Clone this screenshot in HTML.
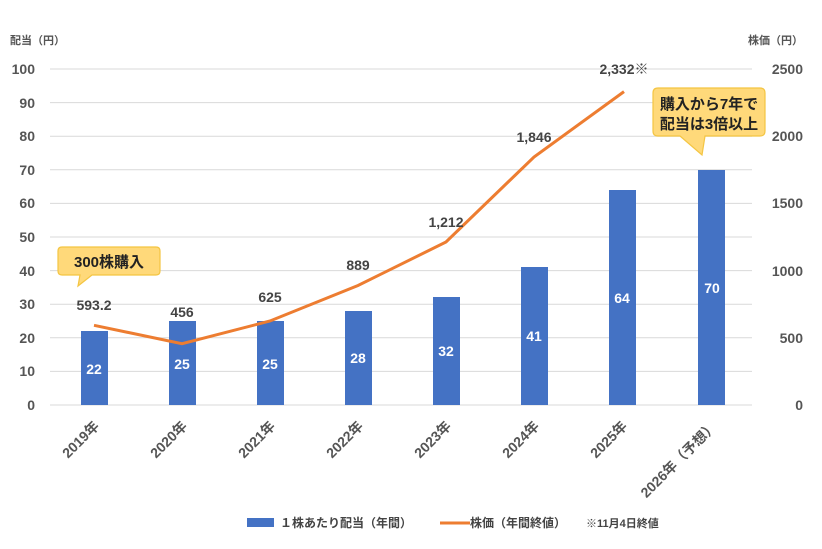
<!DOCTYPE html>
<html><head><meta charset="utf-8"><style>
html,body{margin:0;padding:0;background:#fff;}
svg{display:block;font-family:"Liberation Sans","Noto Sans CJK JP",sans-serif;font-weight:bold;}
</style></head><body>
<svg width="822" height="549" viewBox="0 0 822 549" xmlns="http://www.w3.org/2000/svg">
<g font-size="11" fill="#555"><text x="10" y="44">配当（円）</text><text x="748" y="44">株価（円）</text></g>
<g stroke="#d9d9d9" stroke-width="1">
<line x1="50" x2="752" y1="69" y2="69"/><line x1="50" x2="752" y1="102.6" y2="102.6"/>
<line x1="50" x2="752" y1="136.2" y2="136.2"/><line x1="50" x2="752" y1="169.8" y2="169.8"/>
<line x1="50" x2="752" y1="203.4" y2="203.4"/><line x1="50" x2="752" y1="237" y2="237"/>
<line x1="50" x2="752" y1="270.6" y2="270.6"/><line x1="50" x2="752" y1="304.2" y2="304.2"/>
<line x1="50" x2="752" y1="337.8" y2="337.8"/><line x1="50" x2="752" y1="371.4" y2="371.4"/>
<line x1="50" x2="752" y1="405" y2="405"/>
</g>
<g font-size="14" fill="#555" text-anchor="end">
<text x="35" y="74">100</text><text x="35" y="108">90</text><text x="35" y="141">80</text><text x="35" y="175">70</text><text x="35" y="208">60</text><text x="35" y="242">50</text><text x="35" y="276">40</text><text x="35" y="309">30</text><text x="35" y="343">20</text><text x="35" y="376">10</text><text x="35" y="410">0</text>
</g>
<g font-size="14" fill="#555" text-anchor="end">
<text x="803" y="74">2500</text><text x="803" y="141">2000</text><text x="803" y="208">1500</text><text x="803" y="276">1000</text><text x="803" y="343">500</text><text x="803" y="410">0</text>
</g>
<g fill="#4472c4">
<rect x="81" y="331" width="27" height="74"/>
<rect x="169" y="321" width="27" height="84"/>
<rect x="257" y="321" width="27" height="84"/>
<rect x="345" y="311" width="27" height="94"/>
<rect x="433" y="297" width="27" height="108"/>
<rect x="521" y="267" width="27" height="138"/>
<rect x="609" y="190" width="27" height="215"/>
<rect x="698" y="170" width="27" height="235"/>
</g>
<g font-size="14" fill="#fff" text-anchor="middle">
<text x="94" y="374">22</text><text x="182" y="369">25</text><text x="270" y="369">25</text><text x="358" y="363">28</text><text x="446" y="356">32</text><text x="534" y="341">41</text><text x="622" y="303">64</text><text x="712" y="293">70</text>
</g>
<polyline fill="none" stroke="#ed7d31" stroke-width="3" points="94,325.3 182,343.7 270,321 358,285.5 446,242 534,157 624,91.6"/>
<g font-size="14" fill="#444" text-anchor="middle">
<text x="94" y="310">593.2</text><text x="182" y="317">456</text><text x="270" y="302">625</text><text x="358" y="270">889</text><text x="446" y="227">1,212</text><text x="534" y="142">1,846</text><text x="624" y="74">2,332※</text>
</g>
<g font-size="14" fill="#555" text-anchor="end">
<text transform="translate(100,427) rotate(-45)">2019年</text>
<text transform="translate(188,427) rotate(-45)">2020年</text>
<text transform="translate(276,427) rotate(-45)">2021年</text>
<text transform="translate(364,427) rotate(-45)">2022年</text>
<text transform="translate(452,427) rotate(-45)">2023年</text>
<text transform="translate(540,427) rotate(-45)">2024年</text>
<text transform="translate(628,427) rotate(-45)">2025年</text>
<text transform="translate(718,427) rotate(-45)">2026年（予想）</text>
</g>
<g stroke="#f4c542" stroke-width="1.2" fill="#ffd97a">
<path d="M62,247 H156 Q160,247 160,251 V271 Q160,275 156,275 H92 L78,286 L80,275 H62 Q58,275 58,271 V251 Q58,247 62,247 Z"/>
<path d="M658,88 H760 Q765,88 765,93 V131 Q765,136 760,136 H705 L702,155 L680,136 H658 Q653,136 653,131 V93 Q653,88 658,88 Z"/>
</g>
<g font-size="15" fill="#222" text-anchor="middle">
<text x="109" y="267">300株購入</text>
<text x="709" y="109">購入から7年で</text>
<text x="709" y="129">配当は3倍以上</text>
</g>
<rect x="247" y="518" width="27" height="9" fill="#4472c4"/>
<line x1="440" x2="470" y1="523" y2="523" stroke="#ed7d31" stroke-width="3"/>
<g font-size="12" fill="#444"><text x="280" y="527">１株あたり配当（年間）</text><text x="470" y="527">株価（年間終値）</text><text x="586" y="527" font-size="11">※11月4日終値</text></g>
</svg>
</body></html>
